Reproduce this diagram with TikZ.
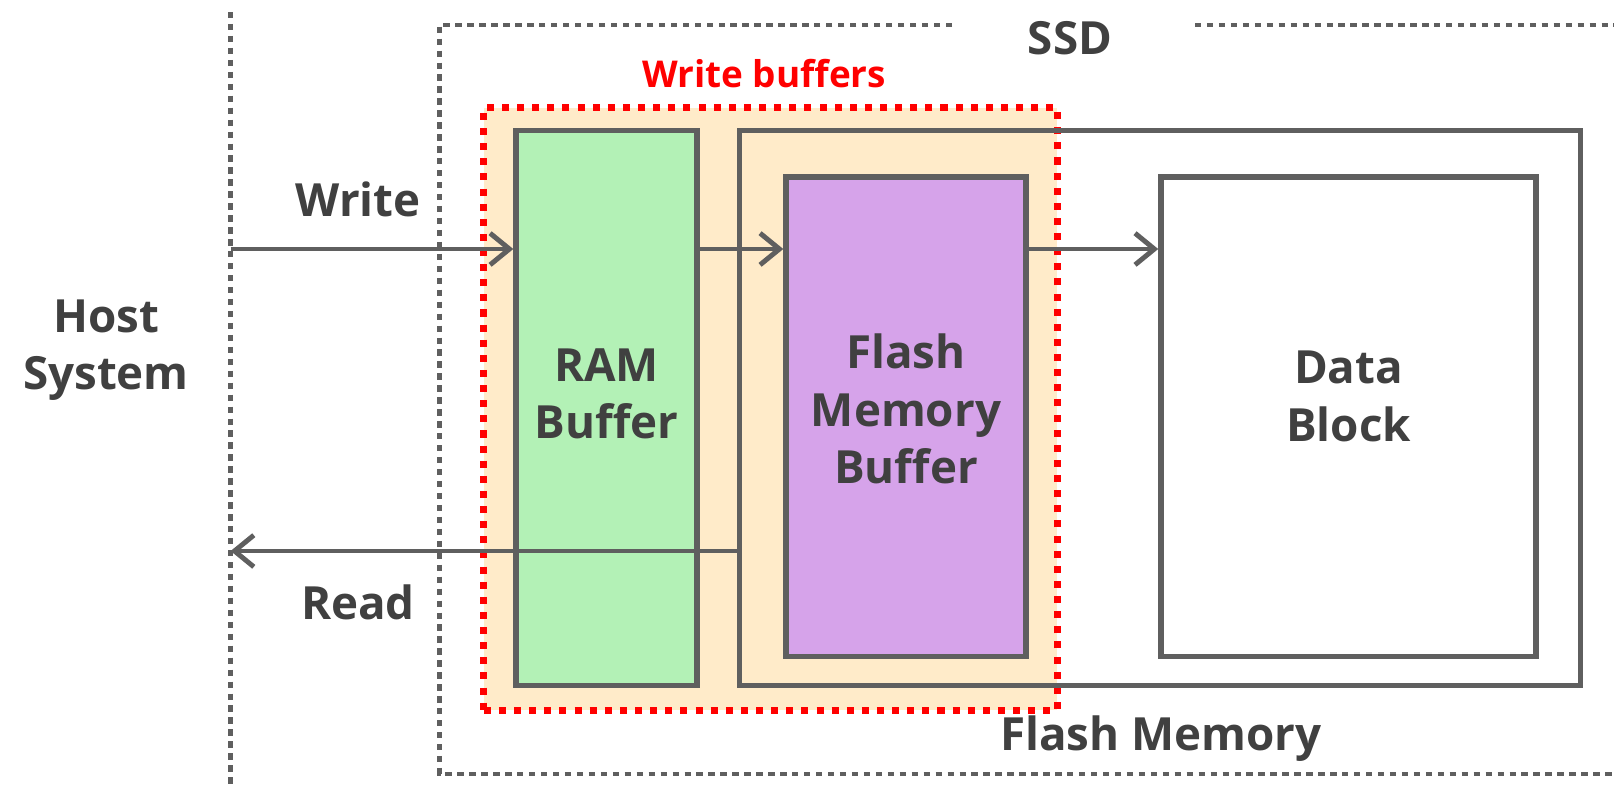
\documentclass[tikz,border=0pt]{standalone}
\usepackage{fontspec}
\setmainfont{Open Sans}
\usetikzlibrary{arrows.meta}
\definecolor{linegray}{HTML}{5F5F5F}
\definecolor{textgray}{HTML}{404040}
\definecolor{bufbg}{HTML}{FFEBC9}
\definecolor{ramgreen}{HTML}{B3F1B6}
\definecolor{fmbpurple}{HTML}{D6A3EA}
\tikzset{every node/.style={font=\fontsize{13}{16.3}\selectfont\bfseries, text=textgray, align=center, inner sep=0pt},
  box/.style={draw=linegray, line width=1.5pt},
  boxtext/.style={font=\fontsize{13}{16.3}\selectfont\bfseries, text=textgray, align=center},
  dotline/.style={draw=linegray, line width=1.3pt, dash pattern=on 1.8pt off 1.6pt},
  reddot/.style={draw=red, line width=2pt, dash pattern=on 2pt off 2.3pt},
  flow/.style={draw=linegray, line width=1.4pt, -{Straight Barb[length=5.5pt,width=9pt]}}}

\begin{document}
\begin{tikzpicture}[x=0.01cm, y=-0.01cm]
   \useasboundingbox (0,0) rectangle (1614,787);
   % host side and SSD outline
   \draw[dotline] (230.6,12) -- (230.6,787);
   \draw[dotline] (952,25) -| (439.5,774) -- (1614,774);
   \draw[dotline] (1195,25) -- (1614,25);
   \coordinate (hw) at (230.6,249);
   \coordinate (hr) at (230.6,551);

   % write buffers
   \node[reddot, fill=bufbg, minimum width=5.73cm, minimum height=6.02cm] (wbuf) at (770.5,409) {};
   \node[box, minimum width=8.40cm, minimum height=5.54cm] (flash) at (1160,408) {};
   \node[box, fill=ramgreen, minimum width=1.81cm, minimum height=5.54cm,
         label={[boxtext,yshift=0.14cm]center:RAM\\Buffer}] (ram) at (606.5,408) {};
   \node[box, fill=fmbpurple, minimum width=2.40cm, minimum height=4.79cm,
         label={[boxtext,yshift=0.075cm]center:Flash\\Memory\\Buffer}] (fmb) at (906,416.5) {};
   \node[box, fill=white, minimum width=3.75cm, minimum height=4.79cm,
         label={[boxtext,yshift=0.2cm]center:Data\\Block}] (data) at (1348.5,416.5) {};

   % data paths
   \draw[flow] (hw) -- (hw -| ram.west);
   \draw[flow] (ram.east |- hw) -- (fmb.west |- hw);
   \draw[flow] (fmb.east |- hw) -- (data.west |- hw);
   \draw[flow] (flash.west |- hr) -- (hr);

   \node (host) at (106,350) {Host\\System};
   \node (wr) at (358,199) {Write};
   \node (rd) at (358,602) {Read};
   \node (ssd) at (1070,38) {SSD};
   \node[text=red, font=\fontsize{10.5}{12}\selectfont\bfseries] (wlab) at (764,74) {Write buffers};
   \node (flab) at (1161,739) {Flash Memory};
\end{tikzpicture}
\end{document}
